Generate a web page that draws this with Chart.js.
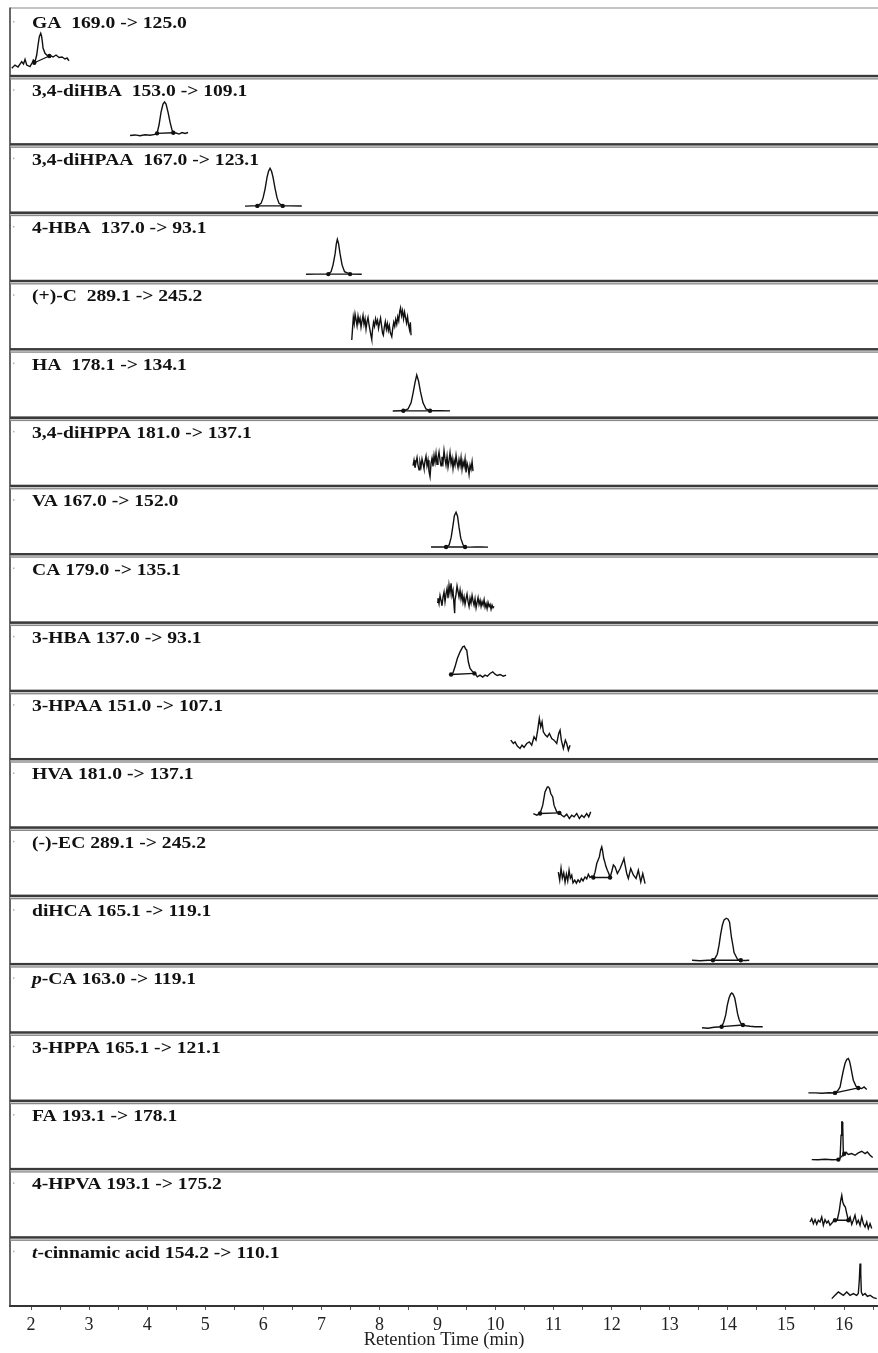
<!DOCTYPE html>
<html>
<head>
<meta charset="utf-8">
<script src="https://cdn.jsdelivr.net/npm/chart.js@4/dist/chart.umd.min.js"></script>
<style>
  html, body { margin: 0; padding: 0; background: #ffffff; }
  canvas { display: block; }
</style>
</head>
<body>
<canvas id="chrom" width="878" height="1353"></canvas>
<script>
// ---- MRM transitions, one panel per compound ----
const italicLead = ['', '', '', '', '', '', '', '', '', '', '', '', '', '', 'p', '', '', '', 't'];
const labels = [
  'GA  169.0 -> 125.0',
  '3,4-diHBA  153.0 -> 109.1',
  '3,4-diHPAA  167.0 -> 123.1',
  '4-HBA  137.0 -> 93.1',
  '(+)-C  289.1 -> 245.2',
  'HA  178.1 -> 134.1',
  '3,4-diHPPA 181.0 -> 137.1',
  'VA 167.0 -> 152.0',
  'CA 179.0 -> 135.1',
  '3-HBA 137.0 -> 93.1',
  '3-HPAA 151.0 -> 107.1',
  'HVA 181.0 -> 137.1',
  '(-)-EC 289.1 -> 245.2',
  'diHCA 165.1 -> 119.1',
  '-CA 163.0 -> 119.1',
  '3-HPPA 165.1 -> 121.1',
  'FA 193.1 -> 178.1',
  '4-HPVA 193.1 -> 175.2',
  '-cinnamic acid 154.2 -> 110.1'
];

// x-axis ticks (minutes)
const majorTicks = [2, 3, 4, 5, 6, 7, 8, 9, 10, 11, 12, 13, 14, 15, 16];
const minorTicks = [2.5, 3.5, 4.5, 5.5, 6.5, 7.5, 8.5, 9.5, 10.5, 11.5, 12.5, 13.5, 14.5, 15.5, 16.5];

// ---- traces: [retention time (min), relative intensity (%)] ----
const trGA = [[1.668,11.7],[1.724,16.5],[1.776,13.6],[1.840,21.4],[1.871,18],[1.897,24.9],[1.926,16.5],[1.983,14.1],[2.017,19.5],[2.040,23.9],[2.069,21.4],[2.098,31.2],[2.121,45.8],[2.143,58],[2.167,63],[2.181,59],[2.195,50.7],[2.207,41.4],[2.241,33.7],[2.270,31.2],[2.293,29.7],[2.327,30.5],[2.379,28.3],[2.431,31.2],[2.482,27.5],[2.534,28.3],[2.585,25.3],[2.620,26.8],[2.654,22.8]];
const blGA = [[2.057,19.9],[2.315,29.7]];

const trDiHBA = [[3.705,13.3],[3.791,14.2],[3.877,13],[3.963,14.5],[4.049,13.8],[4.135,15],[4.170,16.5],[4.204,28.7],[4.239,47.7],[4.273,59.4],[4.299,62.5],[4.325,59.4],[4.359,47.7],[4.394,33],[4.428,21.4],[4.450,17.4],[4.497,17],[4.549,15.5],[4.600,17.7],[4.652,16.3],[4.704,17.7]];
const blDiHBA = [[4.170,16.5],[4.450,17.4]];

const trDiHPAA = [[5.685,10],[5.806,10.3],[5.897,10.3],[5.961,14],[5.996,22],[6.030,35],[6.064,52],[6.090,61],[6.116,65.3],[6.142,61],[6.168,52],[6.202,36],[6.237,22],[6.271,14],[6.334,10.3],[6.460,10.3],[6.662,10.1]];
const blDiHPAA = [[5.897,10.3],[6.334,10.3]];

const trHBA4 = [[6.736,10.3],[6.891,10.5],[7.120,10.5],[7.167,14],[7.201,24],[7.236,40],[7.258,55],[7.275,61.3],[7.296,55],[7.322,40],[7.356,24],[7.399,14],[7.494,10.5],[7.695,10.3]];
const blHBA4 = [[7.120,10.5],[7.494,10.5]];

const trC = [[7.523,14],[7.536,30],[7.550,47],[7.566,38],[7.580,52],[7.597,44],[7.614,35],[7.631,49],[7.648,40],[7.666,46],[7.683,33],[7.700,42],[7.717,50],[7.734,37],[7.752,45],[7.769,30],[7.786,41],[7.803,47],[7.821,36],[7.838,28],[7.855,20],[7.867,15],[7.881,29],[7.898,40],[7.915,34],[7.933,45],[7.950,38],[7.967,43],[7.984,31],[8.001,39],[8.019,46],[8.036,35],[8.053,24],[8.067,21],[8.084,33],[8.101,41],[8.119,30],[8.136,38],[8.153,28],[8.170,35],[8.187,25],[8.212,19],[8.229,31],[8.246,40],[8.263,34],[8.280,44],[8.298,37],[8.315,48],[8.332,42],[8.349,56],[8.363,61],[8.380,50],[8.397,57],[8.415,45],[8.432,55],[8.449,47],[8.466,39],[8.484,48],[8.501,36],[8.518,29],[8.532,40],[8.544,21]];

const trHA = [[8.229,10.2],[8.354,10.4],[8.411,10.4],[8.492,13],[8.544,22],[8.578,36],[8.613,52],[8.642,62.7],[8.673,54],[8.707,38],[8.750,22],[8.802,13],[8.871,10.4],[9.043,10.4],[9.215,10.3]];
const blHA = [[8.411,10.4],[8.871,10.4]];

const trDiHPPA = [[8.578,30],[8.595,38],[8.612,27],[8.630,35],[8.647,42],[8.664,31],[8.681,24],[8.698,36],[8.716,29],[8.733,40],[8.750,33],[8.767,26],[8.785,37],[8.802,44],[8.819,30],[8.836,38],[8.853,22],[8.871,14],[8.888,33],[8.905,41],[8.922,29],[8.940,45],[8.957,35],[8.974,48],[8.991,32],[9.008,41],[9.026,50],[9.043,38],[9.060,30],[9.077,43],[9.095,35],[9.112,52],[9.129,40],[9.146,31],[9.164,44],[9.181,28],[9.198,37],[9.215,49],[9.233,33],[9.250,41],[9.267,26],[9.284,38],[9.301,31],[9.319,45],[9.336,34],[9.353,27],[9.370,39],[9.388,30],[9.405,42],[9.422,25],[9.439,36],[9.457,29],[9.474,40],[9.491,20],[9.508,34],[9.526,28],[9.543,17],[9.560,31],[9.577,25],[9.595,36],[9.611,22]];

const trVA = [[8.888,11],[8.990,11.2],[9.095,11],[9.147,11],[9.200,14],[9.235,25],[9.265,42],[9.290,57],[9.319,62],[9.345,56],[9.370,40],[9.400,24],[9.440,14],[9.474,11],[9.560,10.8],[9.650,11],[9.750,11],[9.870,10.8]];
const blVA = [[9.147,11],[9.474,11]];

const trCA = [[8.991,30],[9.008,36],[9.026,28],[9.043,40],[9.060,33],[9.077,25],[9.095,38],[9.112,45],[9.129,31],[9.146,42],[9.164,50],[9.181,36],[9.198,55],[9.215,44],[9.233,58],[9.250,40],[9.267,47],[9.284,26],[9.295,14],[9.301,33],[9.319,42],[9.336,54],[9.353,46],[9.370,38],[9.388,48],[9.405,35],[9.422,43],[9.439,30],[9.457,38],[9.474,27],[9.491,35],[9.508,42],[9.526,31],[9.543,24],[9.560,36],[9.577,29],[9.595,40],[9.612,32],[9.629,26],[9.646,35],[9.664,22],[9.681,30],[9.698,37],[9.715,27],[9.733,33],[9.750,24],[9.767,31],[9.784,26],[9.802,34],[9.819,23],[9.836,28],[9.853,21],[9.870,30],[9.888,24],[9.905,27],[9.922,20],[9.939,26],[9.956,22],[9.973,24]];

const trHBA3 = [[9.215,23.4],[9.262,25.9],[9.301,35.6],[9.341,47.8],[9.388,57.6],[9.434,64.9],[9.462,65.9],[9.482,62],[9.503,60],[9.530,43],[9.560,33.2],[9.606,28.3],[9.646,25.9],[9.686,21],[9.732,23.4],[9.778,20.5],[9.818,23.4],[9.858,22],[9.904,25.9],[9.951,28.3],[9.990,24.9],[10.030,22.9],[10.076,24.4],[10.133,22],[10.180,23.4]];
const blHBA3 = [[9.233,24.4],[9.635,26]];

const trHPAA3 = [[10.261,28.3],[10.306,23.4],[10.335,25.8],[10.374,19.5],[10.421,16.1],[10.455,20.9],[10.490,17.6],[10.536,23.4],[10.581,25.8],[10.622,20.9],[10.662,33.1],[10.696,28.3],[10.725,42.9],[10.753,60],[10.777,47.7],[10.800,55],[10.822,40.4],[10.857,35.6],[10.891,33.1],[10.926,38.1],[10.967,30.7],[11.006,28.3],[11.053,23.4],[11.087,38.1],[11.110,42.9],[11.132,28.3],[11.167,16.1],[11.201,28.3],[11.225,23.4],[11.253,13.6],[11.282,20.9]];

const trHVA = [[10.650,20.9],[10.709,18.4],[10.765,20.9],[10.812,33.1],[10.851,52.6],[10.891,59.9],[10.908,59.9],[10.929,57.5],[10.950,50.2],[10.984,45.2],[11.006,33.1],[11.053,23.3],[11.098,21.8],[11.139,18.4],[11.179,16],[11.225,19.9],[11.270,13.6],[11.311,18.4],[11.351,16],[11.397,20.9],[11.442,13.6],[11.483,18.4],[11.523,15.1],[11.569,20.9],[11.604,16],[11.638,23.3]];
const blHVA = [[10.765,20.9],[11.098,21.8]];

const trEC = [[11.080,35],[11.104,23.3],[11.127,40.8],[11.149,26.2],[11.173,34],[11.196,20.4],[11.219,32.1],[11.242,22.3],[11.265,37.9],[11.287,26.2],[11.311,30.6],[11.333,19.3],[11.363,23.3],[11.391,18.9],[11.420,23.7],[11.449,20.4],[11.477,25.8],[11.506,22.3],[11.540,28.1],[11.569,25.2],[11.597,32.1],[11.626,27.2],[11.656,29.1],[11.683,27.2],[11.713,35],[11.742,47.7],[11.764,52.6],[11.787,57.4],[11.808,67.2],[11.828,72],[11.845,64.7],[11.862,55],[11.880,50.1],[11.902,42.8],[11.925,37.9],[11.949,33.1],[11.971,27.2],[12.006,37.9],[12.028,45.7],[12.057,42.8],[12.097,33.1],[12.144,40.4],[12.190,50.1],[12.210,55],[12.236,42.8],[12.258,33.1],[12.286,25.8],[12.327,40.4],[12.372,31],[12.419,25.8],[12.458,37.9],[12.500,20.8],[12.534,33.1],[12.574,18.4]];
const blEC = [[11.683,27.2],[11.971,27.2]];

const trDiHCA = [[13.383,6.1],[13.521,5.4],[13.658,6.1],[13.743,6.1],[13.779,9.1],[13.817,14.9],[13.848,28.1],[13.876,44.4],[13.905,57.4],[13.934,65.2],[13.973,67.6],[14.003,66.2],[14.029,61.8],[14.061,39.8],[14.089,26.6],[14.106,17.3],[14.165,7.6],[14.223,6.1],[14.296,5.7],[14.368,6.1]];
const blDiHCA = [[13.743,6.1],[14.223,6.1]];

const trPCA = [[13.555,7.3],[13.658,6.6],[13.761,8.1],[13.830,8.5],[13.892,8.8],[13.928,15.4],[13.963,26.1],[13.990,40.3],[14.020,50.8],[14.046,56.4],[14.067,58.1],[14.089,56.4],[14.118,50.8],[14.141,40.3],[14.165,28.6],[14.192,19.8],[14.223,13.9],[14.258,11.3],[14.313,10.2],[14.382,9.5],[14.468,8.8],[14.600,8.8]];
const blPCA = [[13.892,8.8],[14.258,11.3]];

const trHPPA3 = [[15.386,11.9],[15.501,11.9],[15.622,11.4],[15.742,12.2],[15.845,11.9],[15.897,15.8],[15.932,20.6],[15.961,33.4],[15.989,45.1],[16.018,55.3],[16.047,60.8],[16.074,62.2],[16.095,58.3],[16.116,49.9],[16.138,40.3],[16.160,30.5],[16.207,21.7],[16.246,19.2],[16.305,18.3],[16.345,20.6],[16.391,16.8]];
const blHPPA3 = [[15.845,11.9],[16.246,19.2]];

const trFA = [[15.444,14.3],[15.553,14.1],[15.673,14.8],[15.794,14.1],[15.902,14.3],[15.932,16.3],[15.949,49.9],[15.961,69.4],[15.971,69.4],[15.978,62.1],[15.989,20.6],[16.004,22.8],[16.035,25],[16.074,21.7],[16.133,23.1],[16.190,20.6],[16.246,24],[16.305,26.5],[16.362,23.1],[16.401,25.5],[16.448,20.6],[16.494,17.3]];
const blFA = [[15.902,14.3],[16.004,22.8]];

const trHPVA4 = [[15.415,23],[15.444,28],[15.472,20.6],[15.501,26.5],[15.530,19.6],[15.558,25.5],[15.587,23],[15.616,30.3],[15.644,18.2],[15.673,26.5],[15.702,21.5],[15.730,24.5],[15.759,18.2],[15.806,23],[15.845,25.5],[15.885,26.5],[15.919,40.1],[15.943,54.8],[15.961,62.1],[15.978,52.3],[16.000,47.4],[16.023,44.9],[16.047,35.3],[16.074,25.5],[16.104,30.3],[16.133,19.6],[16.160,25.5],[16.189,32.8],[16.218,20.6],[16.246,25.5],[16.276,18.2],[16.305,30.3],[16.332,20.6],[16.362,15.7],[16.391,23],[16.418,13.3],[16.448,20.6],[16.477,13.3]];
const blHPVA4 = [[15.845,25.5],[16.074,25.5]];

const trTCin = [[15.789,10.8],[15.845,15.7],[15.902,20.5],[15.943,18.2],[15.989,15.7],[16.047,20.5],[16.104,15.7],[16.160,18.2],[16.218,15.7],[16.246,18.2],[16.263,37.6],[16.276,62.1],[16.288,47.4],[16.298,20.5],[16.322,15.7],[16.362,18.2],[16.401,14.2],[16.448,15.7],[16.505,12.3],[16.563,10.8]];

const traces = [trGA, trDiHBA, trDiHPAA, trHBA4, trC, trHA, trDiHPPA, trVA, trCA, trHBA3,
                trHPAA3, trHVA, trEC, trDiHCA, trPCA, trHPPA3, trFA, trHPVA4, trTCin];
const baselines = [blGA, blDiHBA, blDiHPAA, blHBA4, null, blHA, null, blVA, null, blHBA3,
                   null, blHVA, blEC, blDiHCA, blPCA, blHPPA3, blFA, blHPVA4, null];

const N = traces.length;
const serif = "'Liberation Serif', 'Times New Roman', serif";

// ---- datasets and one stacked y scale per panel ----
const datasets = [];
const scales = {
  x: {
    type: 'linear',
    position: 'bottom',
    min: 1.638,
    max: 16.585,
    afterBuildTicks(scale) {
      scale.ticks = majorTicks.concat(minorTicks).sort((a, b) => a - b).map(v => ({ value: v }));
    },
    afterFit(scale) {
      scale.height = 47;
      scale.paddingLeft = 0;
      scale.paddingRight = 0;
    },
    ticks: {
      autoSkip: false,
      maxRotation: 0,
      padding: 4,
      color: '#222',
      font: { family: serif, size: 18 },
      callback: (v) => majorTicks.includes(v) ? String(v) : ''
    },
    grid: { display: true, drawOnChartArea: false, drawTicks: true, tickLength: 4, color: '#555', lineWidth: 1 },
    border: { display: true, color: '#333', width: 2 },
    title: {
      display: true,
      text: 'Retention Time (min)',
      color: '#222',
      padding: { top: 0, bottom: 2 },
      font: { family: serif, size: 18.5 }
    }
  }
};

traces.forEach((tr, i) => {
  const id = 'y' + i;
  scales[id] = {
    type: 'linear',
    position: 'left',
    stack: 'panels',
    stackWeight: 1,
    weight: N - i,
    min: 0,
    max: 100,
    display: true,
    afterFit(scale) { scale.width = 0; },
    ticks: { display: false },
    grid: { display: false, drawTicks: false },
    border: { display: false }
  };
  datasets.push({
    data: tr,
    xAxisID: 'x',
    yAxisID: id,
    borderColor: '#111',
    borderWidth: 1.4,
    pointRadius: 0,
    tension: 0,
    fill: false
  });
  if (baselines[i]) {
    datasets.push({
      data: baselines[i],
      xAxisID: 'x',
      yAxisID: id,
      borderColor: '#111',
      borderWidth: 1.3,
      pointRadius: 2.2,
      pointBackgroundColor: '#111',
      pointBorderWidth: 0,
      tension: 0,
      fill: false
    });
  }
});

// ---- panel frames, separators and compound labels ----
const panelFrame = {
  id: 'panelFrame',
  afterDatasetsDraw(chart) {
    const ctx = chart.ctx;
    const { left, right, top, bottom } = chart.chartArea;
    ctx.save();
    // top and left border
    ctx.fillStyle = '#8a8a8a';
    ctx.fillRect(left, top - 0.5, right - left, 1);
    ctx.fillStyle = '#444';
    ctx.fillRect(left - 0.8, top - 0.5, 1.6, bottom - top + 0.5);

    for (let i = 0; i < N; i++) {
      const s = chart.scales['y' + i];
      if (i < N - 1) {
        const yb = s.bottom;
        ctx.fillStyle = '#3a3a3a';
        ctx.fillRect(left, yb - 1.5, right - left, 2.6);
        ctx.fillStyle = '#d0d0d0';
        ctx.fillRect(left, yb + 1.1, right - left, 0.8);
        ctx.fillStyle = '#888';
        ctx.fillRect(left, yb + 1.9, right - left, 1.3);
      }
      // small mark on the left frame
      ctx.fillStyle = '#b0b0b0';
      ctx.fillRect(left + 3, s.top + 13, 1.5, 1.5);

      // label
      ctx.save();
      ctx.translate(left + 22, s.top + 15.5);
      ctx.scale(1.12, 1);
      ctx.fillStyle = '#111';
      ctx.textBaseline = 'middle';
      let x = 0;
      if (italicLead[i]) {
        ctx.font = "italic bold 17.5px " + serif;
        ctx.fillText(italicLead[i], 0, 0);
        x = ctx.measureText(italicLead[i]).width;
      }
      ctx.font = "bold 17.5px " + serif;
      ctx.fillText(labels[i], x, 0);
      ctx.restore();
    }
    ctx.restore();
  }
};

new Chart(document.getElementById('chrom'), {
  type: 'line',
  data: { datasets },
  options: {
    responsive: false,
    animation: false,
    devicePixelRatio: 1,
    layout: { autoPadding: false, padding: { left: 10, right: 0, top: 8, bottom: 0 } },
    plugins: { legend: { display: false }, tooltip: { enabled: false } },
    scales
  },
  plugins: [panelFrame]
});
</script>
</body>
</html>
